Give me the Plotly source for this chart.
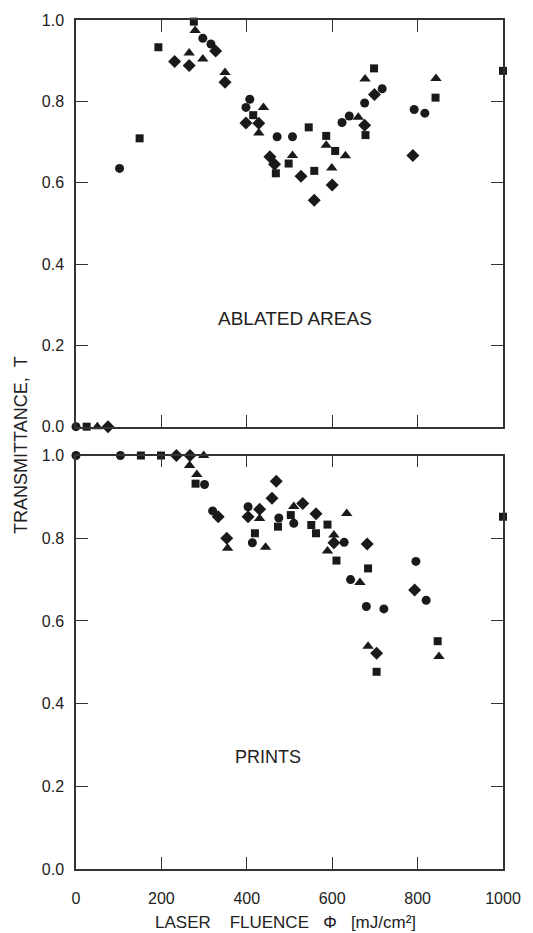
import plotly.graph_objects as go

# ---- Top panel: ABLATED AREAS ----
abl_circle_x = [0, 102, 297, 316, 407, 398, 471, 507, 623, 640, 676, 717, 792, 817]
abl_circle_y = [0.0, 0.635, 0.955, 0.941, 0.805, 0.785, 0.713, 0.713, 0.748, 0.764, 0.796, 0.831, 0.780, 0.771]
abl_square_x = [25, 149, 193, 276, 415, 468, 498, 545, 558, 586, 607, 678, 698, 842, 1000]
abl_square_y = [0.0, 0.709, 0.933, 0.996, 0.766, 0.623, 0.647, 0.736, 0.629, 0.715, 0.678, 0.717, 0.881, 0.809, 0.875]
abl_tri_x = [50, 265, 279, 297, 349, 439, 428, 507, 586, 599, 631, 661, 677, 843]
abl_tri_y = [0.0, 0.919, 0.974, 0.904, 0.871, 0.785, 0.722, 0.667, 0.692, 0.636, 0.666, 0.761, 0.855, 0.856]
abl_dia_x = [75, 231, 265, 327, 349, 398, 428, 454, 465, 527, 558, 600, 676, 699, 789]
abl_dia_y = [0.0, 0.898, 0.888, 0.924, 0.847, 0.747, 0.746, 0.664, 0.645, 0.616, 0.557, 0.594, 0.741, 0.817, 0.667]

# ---- Bottom panel: PRINTS ----
pr_circle_x = [0, 104, 301, 320, 403, 413, 475, 510, 628, 643, 680, 721, 796, 820]
pr_circle_y = [1.0, 1.0, 0.930, 0.866, 0.876, 0.789, 0.849, 0.836, 0.790, 0.700, 0.635, 0.629, 0.744, 0.650]
pr_square_x = [152, 199, 280, 419, 473, 503, 551, 562, 589, 610, 684, 704, 847, 1000]
pr_square_y = [1.0, 1.0, 0.932, 0.812, 0.828, 0.856, 0.832, 0.812, 0.833, 0.746, 0.727, 0.477, 0.551, 0.852]
pr_tri_x = [299, 266, 283, 355, 430, 444, 510, 604, 589, 634, 665, 684, 850]
pr_tri_y = [1.0, 0.976, 0.954, 0.776, 0.848, 0.778, 0.877, 0.808, 0.769, 0.860, 0.693, 0.539, 0.514]
pr_dia_x = [235, 267, 333, 353, 403, 430, 469, 459, 531, 562, 604, 682, 704, 793]
pr_dia_y = [1.0, 1.0, 0.852, 0.800, 0.852, 0.870, 0.938, 0.897, 0.884, 0.859, 0.789, 0.786, 0.522, 0.675]

x_ticks = [0, 200, 400, 600, 800, 1000]
y_ticks = [0.0, 0.2, 0.4, 0.6, 0.8, 1.0]

INK = "#1a1a1a"
FONT = "Liberation Sans, Arial, sans-serif"

fig = go.Figure()

def add_series(xs, ys, symbol, size, xa, ya):
    fig.add_trace(go.Scatter(
        x=xs, y=ys, mode="markers", xaxis=xa, yaxis=ya,
        marker=dict(symbol=symbol, size=size, color=INK, line=dict(width=0)),
        cliponaxis=False, showlegend=False, hoverinfo="x+y"))

add_series(abl_circle_x, abl_circle_y, "circle", 9, "x", "y")
add_series(abl_square_x, abl_square_y, "square", 8, "x", "y")
add_series(abl_tri_x, abl_tri_y, "triangle-up", 10, "x", "y")
add_series(abl_dia_x, abl_dia_y, "diamond", 10, "x", "y")

add_series(pr_circle_x, pr_circle_y, "circle", 9, "x2", "y2")
add_series(pr_square_x, pr_square_y, "square", 8, "x2", "y2")
add_series(pr_tri_x, pr_tri_y, "triangle-up", 10, "x2", "y2")
add_series(pr_dia_x, pr_dia_y, "diamond", 10, "x2", "y2")

axis_common = dict(
    range=[0, 1000], showgrid=False, zeroline=False,
    showline=True, linecolor="#333", linewidth=1.5, mirror="ticks",
    ticks="inside", ticklen=12, tickwidth=1.3, tickcolor="#333",
    tickvals=x_ticks, tickfont=dict(family=FONT, size=16, color="#222"),
)
yaxis_common = dict(
    range=[0, 1], showgrid=False, zeroline=False,
    showline=True, linecolor="#333", linewidth=1.5, mirror="ticks",
    ticks="inside", ticklen=12, tickwidth=1.3, tickcolor="#333",
    tickvals=y_ticks, ticktext=[f"{v:.1f}" for v in y_ticks],
    tickfont=dict(family=FONT, size=16, color="#222"), ticklabelstandoff=7,
)

fig.update_layout(
    width=533, height=933,
    margin=dict(l=76, r=26, t=16, b=64),
    paper_bgcolor="white", plot_bgcolor="white",
    xaxis=dict(axis_common, domain=[0, 1], anchor="y", showticklabels=False),
    yaxis=dict(yaxis_common, domain=[0.521, 1], anchor="x"),
    xaxis2=dict(axis_common, domain=[0, 1], anchor="y2", ticklabelstandoff=14),
    yaxis2=dict(yaxis_common, domain=[0, 0.487], anchor="x2"),
    font=dict(family=FONT, color="#222"),
)

fig.add_annotation(text="ABLATED AREAS", x=513, y=0.266, xref="x", yref="y",
                   showarrow=False, font=dict(family=FONT, size=19, color="#222"))
fig.add_annotation(text="PRINTS", x=450, y=0.27, xref="x2", yref="y2",
                   showarrow=False, font=dict(family=FONT, size=18, color="#222"))
fig.add_annotation(text="TRANSMITTANCE,\u00a0\u00a0T", x=-0.13, y=0.5, xref="paper", yref="paper",
                   textangle=-90, showarrow=False, xanchor="center", yanchor="middle",
                   font=dict(family=FONT, size=18, color="#222"))
fig.add_annotation(text="LASER\u00a0\u00a0\u00a0\u00a0FLUENCE\u00a0\u00a0\u00a0\u03a6\u00a0\u00a0\u00a0[mJ/cm\u00b2]",
                   x=0.49, y=-0.063, xref="paper", yref="paper",
                   showarrow=False, xanchor="center", yanchor="middle",
                   font=dict(family=FONT, size=17, color="#222"))

fig.write_html("out.html")
